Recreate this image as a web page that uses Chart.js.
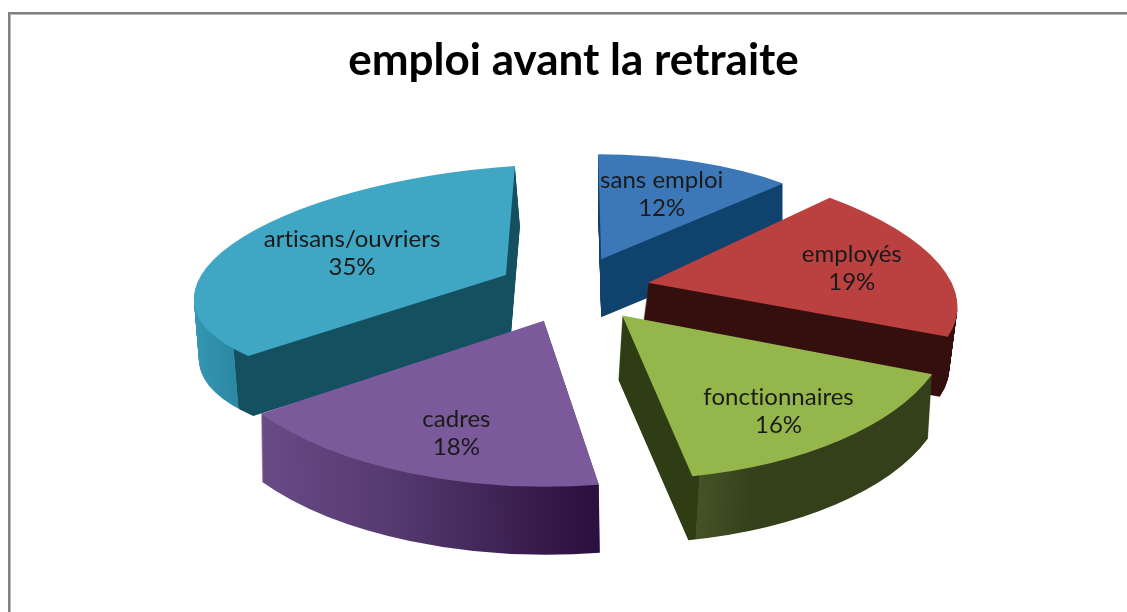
<!DOCTYPE html>
<html lang="fr">
<head>
<meta charset="utf-8">
<title>emploi avant la retraite</title>
<style>
  html, body { margin: 0; padding: 0; background: #fff; overflow: hidden; }
  canvas { display: block; }
</style>
<script src="https://cdn.jsdelivr.net/npm/chart.js@4/dist/chart.umd.min.js"></script>
</head>
<body>
<canvas id="pie" width="1127" height="612"></canvas>
<script>
const categories = ['sans emploi', 'employés', 'fonctionnaires', 'cadres', 'artisans/ouvriers'];
const shares = [12, 19, 16, 18, 35];
const chartTitle = 'emploi avant la retraite';

const topColors = ['#3c78b8', '#bb4040', '#95b64b', '#7a5a9a', '#3fa6c3'];
// wall colours by screen x, so the cut faces and the rim can differ
const wallStops = [
    [[590, '#0f426d'], [790, '#0f426d']],
    [[640, '#350e0e'], [960, '#350e0e']],
    [[618, '#2f3d14'], [691, '#2f3d14'], [691.5, '#445327'], [750, '#33401a'], [935, '#33401a']],
    [[262, '#6a4b86'], [400, '#553a70'], [600, '#2c103f']],
    [[195, '#3496b2'], [238, '#2c88a3'], [238.5, '#14505f'], [510, '#14505f'], [510.5, '#3a9cb8'], [525, '#3a9cb8']]
];

// each slice is tilted on its own to fake the perspective of the 3D pie
const tilt = [
    { a: 269, b: 1, c: 3, d: 105 },
    { a: 307, b: 8.7, c: 39, d: 124.8 },
    { a: 330, b: -1.6, c: 8.4, d: 164 },
    { a: 343, b: 5.6, c: -9.3, d: 166 },
    { a: 312, b: -20.9, c: -9, d: 109 }
];
const wallDepth = [58, 60, 64, 68, 60];
const wallLean = [0, -8, -4, 1, 5];
const apexNudge = [1, -2, 0, 4, 9];
const labelReach = [0.65, 0.7, 0.73, 0.7, 0.54];
const labelShiftX = [-2, 0, -2, 7, -6];
const labelShiftY = [-2, -1, 4, 6, -5];
const drawOrder = [0, 4, 1, 3, 2];

const pieCenter = { x: 570, y: 290 };
const explodeX = 82;
const explodeY = 33;

function sliceGeometry(arc, i) {
    const mid = (arc.startAngle + arc.endAngle) / 2;
    return {
        mid,
        apexX: pieCenter.x + Math.cos(mid) * explodeX + apexNudge[i],
        apexY: pieCenter.y + Math.sin(mid) * explodeY,
        t: tilt[i],
        r: arc.outerRadius
    };
}

function wallFill(ctx, arc, geo, i) {
    const stops = wallStops[i];
    const toLocal = x => arc.x + (x - geo.apexX) * geo.r / geo.t.a;
    const x0 = stops[0][0];
    const x1 = stops[stops.length - 1][0];
    const grad = ctx.createLinearGradient(toLocal(x0), 0, toLocal(x1), 0);
    stops.forEach(s => grad.addColorStop((s[0] - x0) / (x1 - x0), s[1]));
    return grad;
}

function drawSlice(ctx, arc, geo, shiftX, shiftY, fill) {
    const t = geo.t;
    const copy = Object.create(arc);
    copy.options = Object.assign({}, arc.options, { backgroundColor: fill, borderWidth: 0, offset: 0 });
    ctx.save();
    ctx.translate(geo.apexX + shiftX, geo.apexY + shiftY);
    ctx.transform(t.a / geo.r, t.b / geo.r, t.c / geo.r, t.d / geo.r, 0, 0);
    ctx.translate(-arc.x, -arc.y);
    copy.draw(ctx);
    ctx.restore();
}

const framePlugin = {
    id: 'frame',
    beforeDraw(chart) {
        const ctx = chart.ctx;
        ctx.save();
        ctx.fillStyle = '#808080';
        ctx.fillRect(8, 12, 1119, 2);
        ctx.fillRect(8, 12, 2, 600);
        ctx.fillStyle = '#b8b8b8';
        ctx.fillRect(10, 14, 1117, 1);
        ctx.fillRect(10, 14, 1, 598);
        ctx.restore();
    }
};

const extrudedPie = {
    id: 'extrudedPie',
    beforeDatasetsDraw(chart) {
        const ctx = chart.ctx;
        const arcs = chart.getDatasetMeta(0).data;
        drawOrder.forEach(i => {
            const arc = arcs[i];
            const geo = sliceGeometry(arc, i);
            const fill = wallFill(ctx, arc, geo, i);
            for (let d = wallDepth[i]; d > 0; d--) {
                drawSlice(ctx, arc, geo, wallLean[i] * d / wallDepth[i], d, fill);
            }
            drawSlice(ctx, arc, geo, 0, 0, topColors[i]);
        });
        return false;
    },
    afterDraw(chart) {
        const ctx = chart.ctx;
        const arcs = chart.getDatasetMeta(0).data;
        ctx.save();
        ctx.font = '24px Lato';
        ctx.letterSpacing = '0.01px'; // keeps the "ti" ligature out of artisans/fonctionnaires
        ctx.fillStyle = '#1a1a1a';
        ctx.textAlign = 'center';
        ctx.textBaseline = 'middle';
        arcs.forEach((arc, i) => {
            const geo = sliceGeometry(arc, i);
            const u = Math.cos(geo.mid) * labelReach[i];
            const v = Math.sin(geo.mid) * labelReach[i];
            const x = geo.apexX + geo.t.a * u + geo.t.c * v + labelShiftX[i];
            const y = geo.apexY + geo.t.b * u + geo.t.d * v + labelShiftY[i];
            ctx.fillText(categories[i], x, y - 14);
            ctx.fillText(shares[i] + '%', x, y + 14);
        });
        ctx.restore();
    }
};

new Chart(document.getElementById('pie'), {
    type: 'pie',
    data: {
        labels: categories,
        datasets: [{
            data: shares,
            backgroundColor: topColors,
            borderWidth: 0
        }]
    },
    options: {
        responsive: false,
        animation: false,
        events: [],
        layout: { padding: { left: 20 } },
        plugins: {
            legend: { display: false },
            tooltip: { enabled: false },
            title: {
                display: true,
                text: chartTitle,
                color: '#000',
                font: { family: 'Lato', size: 44, weight: 'bold' },
                padding: { top: 34, bottom: 10 }
            }
        }
    },
    plugins: [framePlugin, extrudedPie]
});
</script>
</body>
</html>
